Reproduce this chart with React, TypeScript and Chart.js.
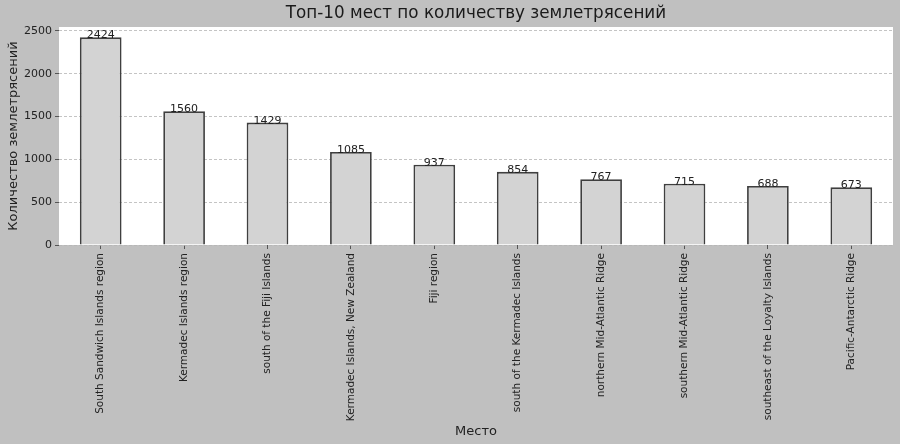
import React, { useEffect, useRef } from "react";
import { Chart, registerables } from "chart.js";

Chart.register(...registerables);

const categories = [
  "South Sandwich Islands region",
  "Kermadec Islands region",
  "south of the Fiji Islands",
  "Kermadec Islands, New Zealand",
  "Fiji region",
  "south of the Kermadec Islands",
  "northern Mid-Atlantic Ridge",
  "southern Mid-Atlantic Ridge",
  "southeast of the Loyalty Islands",
  "Pacific-Antarctic Ridge",
];
const counts = [2424, 1560, 1429, 1085, 937, 854, 767, 715, 688, 673];
const yTicks = [0, 500, 1000, 1500, 2000, 2500];
const titleText = "Топ-10 мест по количеству землетрясений";
const xTitle = "Место";
const yTitle = "Количество землетрясений";

const FONT = "'DejaVu Sans', 'Liberation Sans', sans-serif";

const bgPlugin = {
  id: "bgPlugin",
  beforeDraw(chart: any) {
    const { ctx, chartArea } = chart;
    ctx.save();
    ctx.fillStyle = "#c0c0c0";
    ctx.fillRect(0, 0, chart.width, chart.height);
    ctx.fillStyle = "#ffffff";
    ctx.fillRect(chartArea.left, chartArea.top, chartArea.right - chartArea.left, chartArea.bottom - chartArea.top);
    ctx.restore();
  },
};

const titlePlugin = {
  id: "centerTitle",
  afterDraw(chart: any) {
    const { ctx, chartArea } = chart;
    ctx.save();
    ctx.font = `16.8px ${FONT}`;
    ctx.fillStyle = "#1a1a1a";
    ctx.textAlign = "center";
    ctx.textBaseline = "middle";
    ctx.fillText(titleText, (chartArea.left + chartArea.right) / 2, 14);
    ctx.restore();
  },
};

const valueLabels = {
  id: "valueLabels",
  afterDatasetsDraw(chart: any) {
    const { ctx } = chart;
    const meta = chart.getDatasetMeta(0);
    ctx.save();
    ctx.font = `11px ${FONT}`;
    ctx.fillStyle = "#222222";
    ctx.textAlign = "center";
    ctx.textBaseline = "alphabetic";
    meta.data.forEach((bar: any, i: number) => {
      ctx.fillText(String(counts[i]), bar.x, bar.y + 1);
    });
    ctx.restore();
  },
};

export default function App() {
  const ref = useRef<HTMLCanvasElement | null>(null);
  useEffect(() => {
    if (!ref.current) return;
    const chart = new Chart(ref.current, {
      type: "bar",
      data: {
        labels: categories,
        datasets: [
          {
            data: counts,
            backgroundColor: "#d3d3d3",
            borderColor: "#3f3f3f",
            borderWidth: 1.8,
            categoryPercentage: 1,
            barPercentage: 0.5,
          },
        ],
      },
      options: {
        responsive: false,
        animation: false,
        layout: { padding: { left: 0, right: 7, top: 27, bottom: 0 } },
        plugins: {
          legend: { display: false },
          tooltip: { enabled: false },
          title: { display: false },
        },
        scales: {
          x: {
            afterFit(scale: any) {
              scale.height = 199;
            },
            grid: {
              offset: false,
              drawOnChartArea: false,
              drawTicks: true,
              tickLength: 4,
              tickColor: "#555555",
              tickWidth: 1,
            },
            border: { display: false },
            ticks: {
              autoSkip: false,
              maxRotation: 90,
              minRotation: 90,
              padding: 4,
              color: "#222222",
              font: { family: FONT, size: 10.5 },
            },
            title: {
              display: true,
              text: xTitle,
              color: "#222222",
              font: { family: FONT, size: 13 },
              padding: { top: 0, bottom: 5 },
            },
          },
          y: {
            min: 0,
            max: 2545,
            afterFit(scale: any) {
              scale.width = 59;
            },
            afterBuildTicks(scale: any) {
              scale.ticks = yTicks.map((v) => ({ value: v }));
            },
            grid: {
              color: "#b5b5b5",
              lineWidth: 0.8,
              drawTicks: true,
              tickLength: 4,
              tickColor: "#555555",
              tickWidth: 1,
              tickBorderDash: [],
            },
            border: { display: false, dash: [3, 2] },
            ticks: {
              padding: 3,
              color: "#222222",
              font: { family: FONT, size: 11 },
              callback: (v: any) => String(v),
            },
            title: {
              display: true,
              text: yTitle,
              color: "#222222",
              font: { family: FONT, size: 13 },
              padding: { top: 6, bottom: 0 },
            },
          },
        },
      },
      plugins: [bgPlugin, valueLabels, titlePlugin],
    } as any);
    return () => chart.destroy();
  }, []);
  return (
    <div style={{ position: "absolute", left: 0, top: 0, width: 900, height: 444 }}>
      <canvas ref={ref} width={900} height={444} />
    </div>
  );
}
